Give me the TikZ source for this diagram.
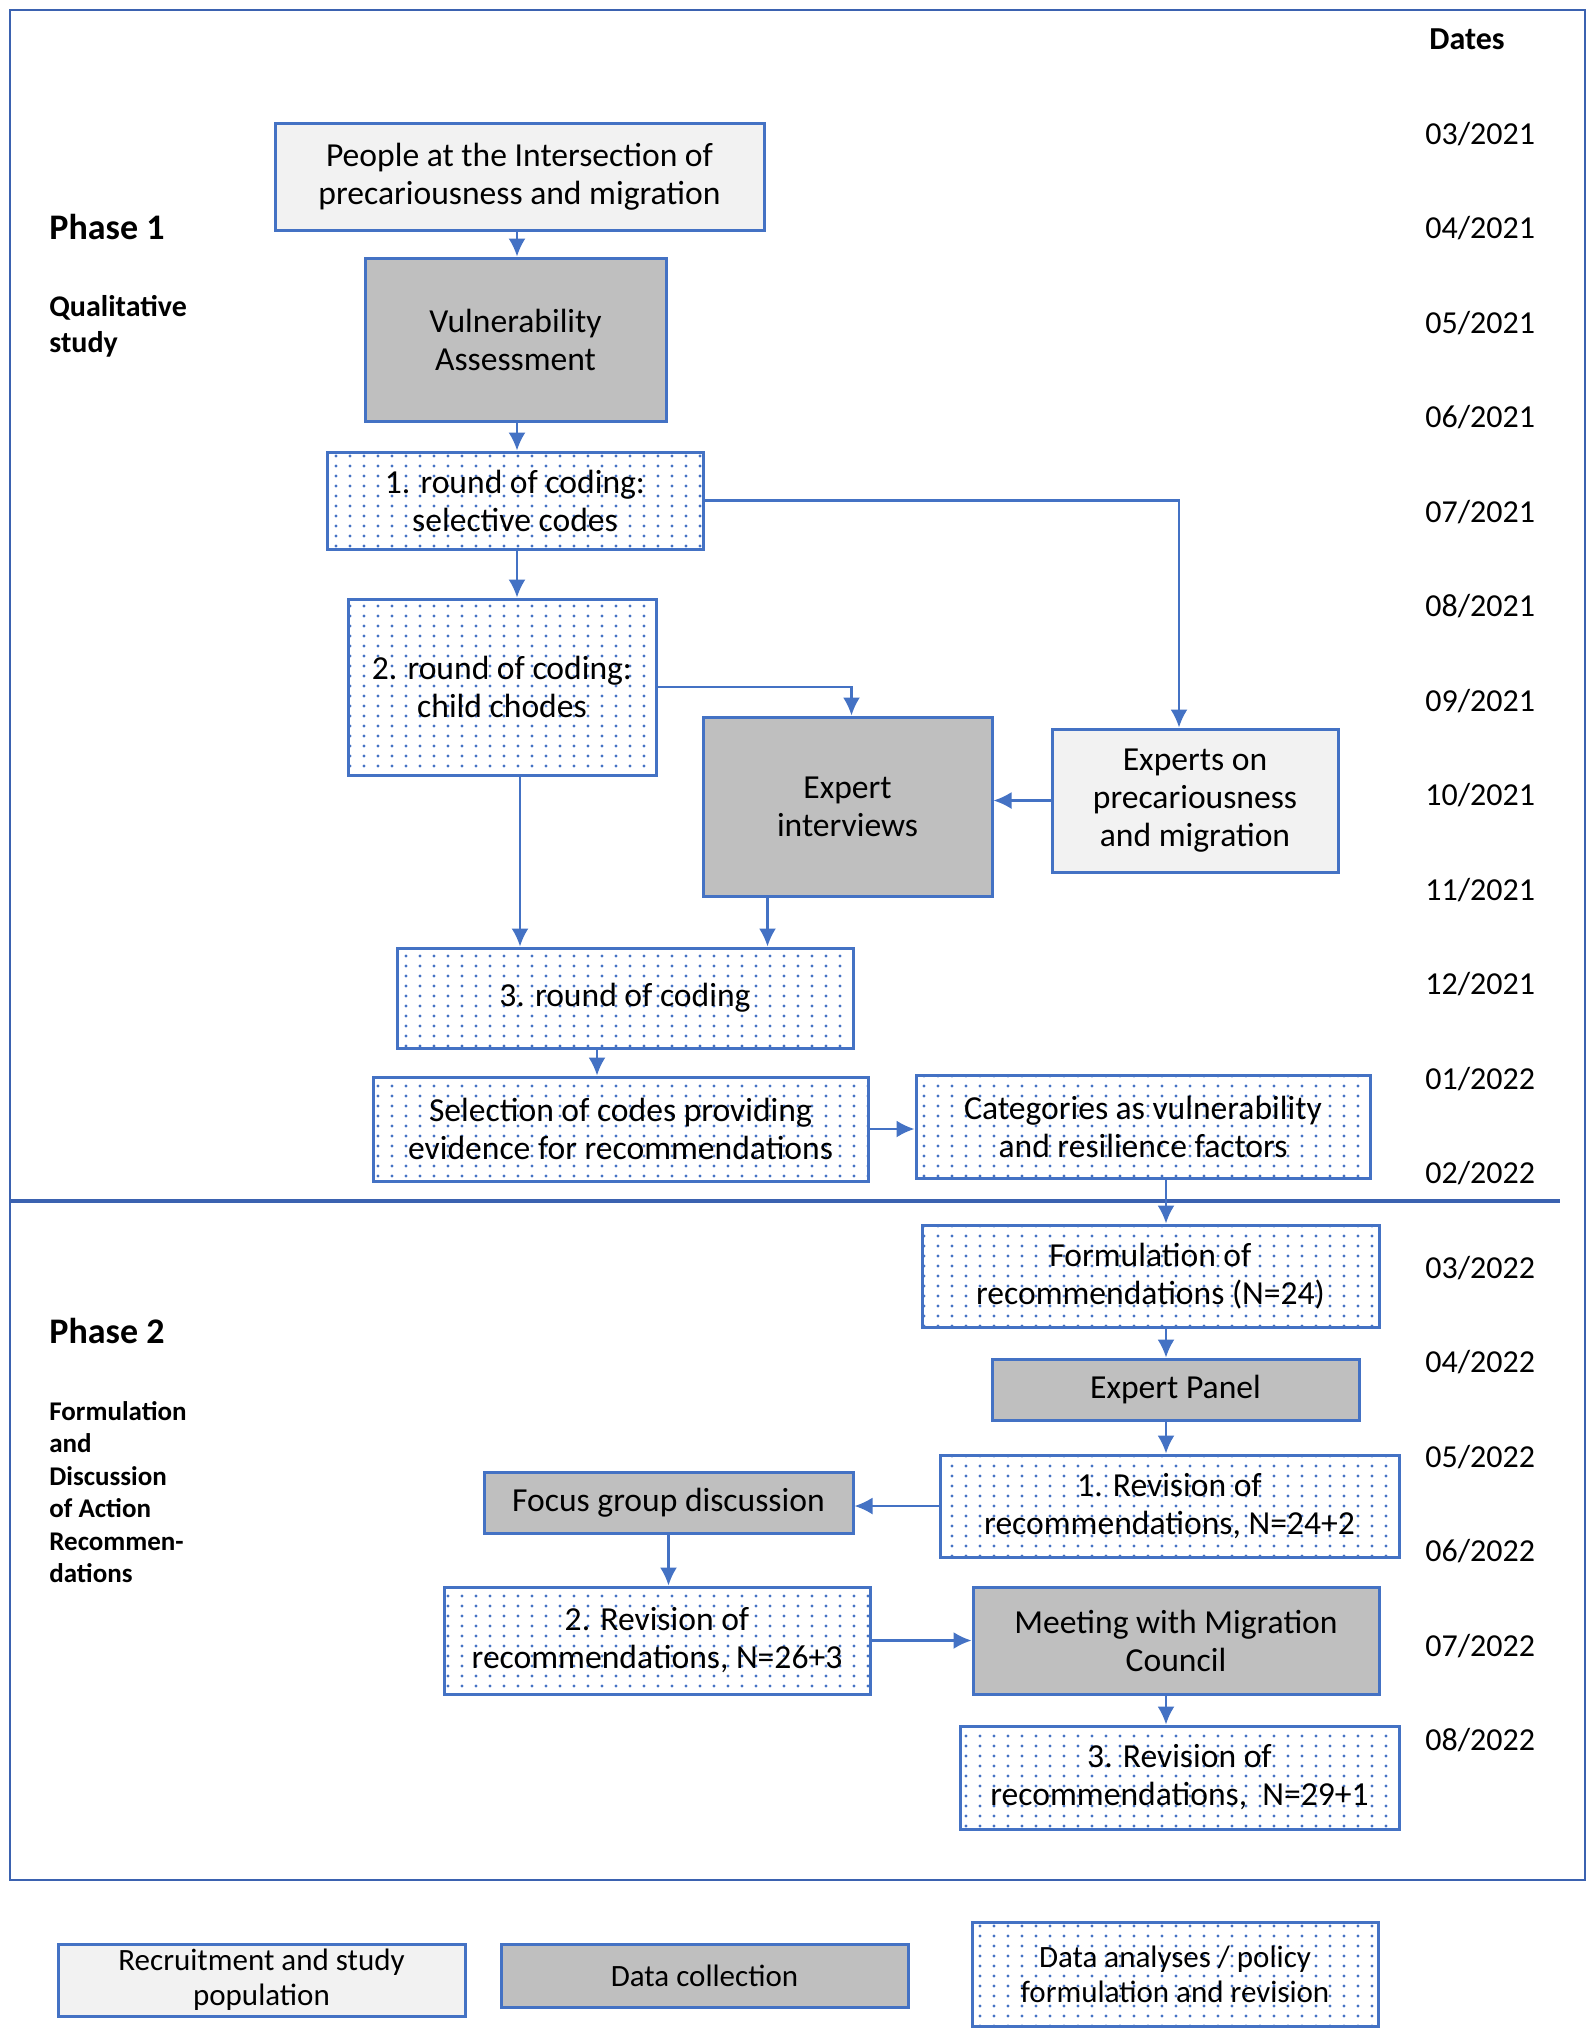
\documentclass[tikz,border=0pt]{standalone}
\usepackage{fontspec}
\setmainfont{Carlito}
\usepackage{tikz}
\usetikzlibrary{shapes, positioning, arrows.meta, patterns}
\definecolor{boxblue}{HTML}{4472C4}
\definecolor{frameblue}{HTML}{3B62B0}
\definecolor{darkfill}{HTML}{BFBFBF}
\definecolor{lightfill}{HTML}{F2F2F2}
\pgfdeclarepatternformonly{smalldots}{\pgfqpoint{-1pt}{-1pt}}{\pgfqpoint{1pt}{1pt}}{\pgfqpoint{7pt}{5pt}}{%
  \pgfpathcircle{\pgfqpoint{0pt}{0pt}}{0.8pt}\pgfusepath{fill}}

\begin{document}
\begin{tikzpicture}[
  x=0.5pt, y=-0.5pt,
  base/.style={draw=boxblue, line width=1.5pt, align=center, inner sep=2pt,
    font=\fontsize{16.8}{19}\selectfont},
  recnode/.style={base, fill=lightfill},
  colnode/.style={base, fill=darkfill},
  anlnode/.style={base, pattern=smalldots, pattern color=boxblue},
  lgnode/.style={font=\fontsize{15.5}{17.5}\selectfont},
  dlabel/.style={anchor=west, inner sep=0pt, font=\fontsize{16}{19}\selectfont},
  plabel/.style={anchor=west, inner sep=0pt, align=left},
  arr/.style={boxblue, line width=1.1pt, -{Latex[length=9pt,width=8.5pt]}}
]
\useasboundingbox (0,0) rectangle (1595,2036);

\draw[frameblue, line width=1.3pt] (10,10) rectangle (1585,1880);
\draw[frameblue, line width=2pt] (10,1201) -- (1560,1201);

% phase labels
\node[plabel, font=\bfseries\fontsize{18}{21}\selectfont] (ph1) at (49,227) {Phase 1};
\node[plabel, font=\bfseries\fontsize{15}{18}\selectfont] (qs) at (49,326) {Qualitative\\study};
\node[plabel, font=\bfseries\fontsize{18}{21}\selectfont] (ph2) at (49,1331) {Phase 2};
\node[plabel, font=\bfseries\fontsize{13.5}{16.2}\selectfont] (fd) at (49,1492)
  {Formulation\\and\\Discussion\\of Action\\Recommen-\\dations};

% dates
\node[dlabel, font=\bfseries\fontsize{16}{19}\selectfont] (dh) at (1429,39) {Dates};
\foreach \d [count=\i from 0] in {03/2021,04/2021,05/2021,06/2021,07/2021,08/2021,
  09/2021,10/2021,11/2021,12/2021,01/2022,02/2022,03/2022,04/2022,05/2022,06/2022,
  07/2022,08/2022}
  \node[dlabel] (d\i) at (1425,{134+94.5*\i}) {\d};

% phase 1
\node[recnode, minimum width=244.5pt, minimum height=53.5pt] (p) at (519.5,176.5)
  {People at the Intersection of\\precariousness and migration};
\node[colnode, minimum width=150.5pt, minimum height=81.5pt] (v) at (515.5,339.5)
  {Vulnerability\\Assessment};
\node[anlnode, minimum width=188pt, minimum height=48.5pt] (c1) at (515,500.5)
  {1. round of coding:\\selective codes};
\node[anlnode, minimum width=154pt, minimum height=88pt] (c2) at (502,687)
  {2. round of coding:\\child chodes};
\node[colnode, minimum width=144.5pt, minimum height=89.5pt] (ei) at (847.5,806.5)
  {Expert\\interviews};
\node[recnode, minimum width=143pt, minimum height=71.5pt] (ex) at (1195,800.5)
  {Experts on\\precariousness\\and migration};
\node[anlnode, minimum width=228pt, minimum height=50pt] (c3) at (625,998)
  {3. round of coding};
\node[anlnode, minimum width=247.5pt, minimum height=52pt] (sel) at (620.5,1129)
  {Selection of codes providing\\evidence for recommendations};
\node[anlnode, minimum width=227pt, minimum height=51.5pt] (cat) at (1143,1126.5)
  {Categories as vulnerability\\and resilience factors};

% phase 2
\node[anlnode, minimum width=228.5pt, minimum height=51pt] (f) at (1150.5,1276)
  {Formulation of\\recommendations (N=24)};
\node[colnode, minimum width=183.5pt, minimum height=30.5pt] (ep) at (1175.5,1389.5)
  {Expert Panel};
\node[anlnode, minimum width=229.5pt, minimum height=51pt] (r1) at (1169.5,1506)
  {1. Revision of\\recommendations, N=24+2};
\node[colnode, minimum width=184.5pt, minimum height=30.5pt] (fg) at (668.5,1502.5)
  {Focus group discussion};
\node[anlnode, minimum width=213pt, minimum height=53.5pt] (r2) at (657,1640.5)
  {2. Revision of\\recommendations, N=26+3};
\node[colnode, minimum width=203pt, minimum height=53.5pt] (mc) at (1176,1640.5)
  {Meeting with Migration\\Council};
\node[anlnode, minimum width=219.5pt, minimum height=51.5pt] (r3) at (1179.5,1777.5)
  {3. Revision of\\recommendations,~ N=29+1};

% legend
\node[recnode, lgnode, minimum width=203.5pt, minimum height=36pt] (l1) at (261.5,1980)
  {Recruitment and study\\population};
\node[colnode, lgnode, minimum width=203.5pt, minimum height=31.5pt] (l2) at (704.5,1975.5)
  {Data collection};
\node[anlnode, lgnode, minimum width=203pt, minimum height=52pt] (l3) at (1175,1974)
  {Data analyses / policy\\formulation and revision};

% arrow columns
\coordinate (a) at (517,0);
\coordinate (k) at (1166,0);

\draw[arr] (p.south -| a) -- (v.north -| a);
\draw[arr] (v.south -| a) -- (c1.north -| a);
\draw[arr] (c1.south -| a) -- (c2.north -| a);
\draw[arr] (c1.east) -| ([xshift=-8pt]ex.north);
\draw[arr] (c2.east) -| ([xshift=2pt]ei.north);
\draw[arr] (ex.west) -- (ex.west -| ei.east);
\draw[arr] ([xshift=9pt]c2.south) -- ([xshift=9pt]c2.south |- c3.north);
\draw[arr] ([xshift=-40pt]ei.south) -- ([xshift=-40pt]ei.south |- c3.north);
\draw[arr] ([xshift=-14pt]c3.south) -- ([xshift=-14pt]c3.south |- sel.north);
\draw[arr] (sel.east) -- (sel.east -| cat.west);
\draw[arr] (cat.south -| k) -- (f.north -| k);
\draw[arr] (f.south -| k) -- (ep.north -| k);
\draw[arr] (ep.south -| k) -- (r1.north -| k);
\draw[arr] (r1.west) -- (r1.west -| fg.east);
\draw[arr] (fg.south) -- (fg.south |- r2.north);
\draw[arr] (r2.east) -- (r2.east -| mc.west);
\draw[arr] (mc.south -| k) -- (r3.north -| k);

\end{tikzpicture}
\end{document}
